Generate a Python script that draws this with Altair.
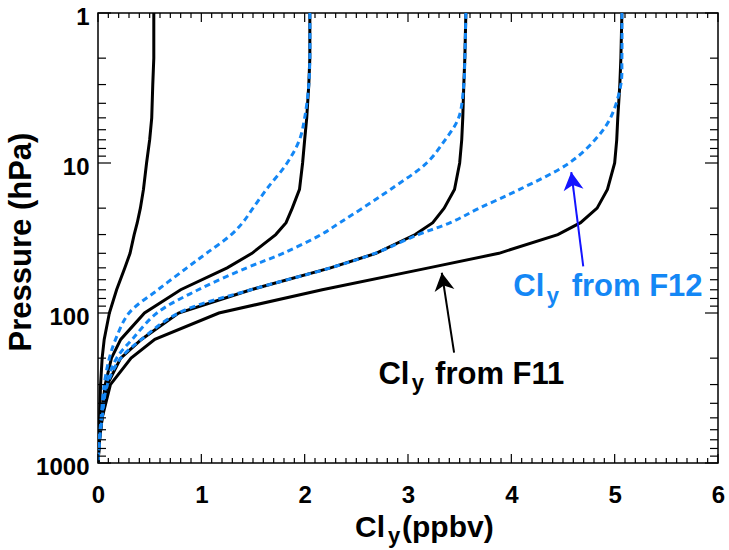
import altair as alt
import pandas as pd

# ---------------- data ----------------
pressure = [1, 2, 3, 5, 7, 10, 15, 20, 25, 30, 40, 50, 70, 100, 150, 200, 300, 500, 700, 1000]

# Cly from F11 (black solid)
f11_a = [0.54, 0.54, 0.53, 0.52, 0.50, 0.47, 0.44, 0.41, 0.38, 0.35, 0.31, 0.26, 0.18, 0.11, 0.06, 0.04, 0.025, 0.015, 0.008, 0.0]
f11_b = [2.05, 2.05, 2.04, 2.02, 2.00, 1.98, 1.95, 1.88, 1.82, 1.72, 1.49, 1.25, 0.80, 0.45, 0.22, 0.13, 0.07, 0.03, 0.012, 0.0]
f11_c = [3.56, 3.55, 3.54, 3.53, 3.52, 3.50, 3.45, 3.35, 3.24, 3.07, 2.69, 2.25, 1.48, 0.78, 0.42, 0.22, 0.09, 0.04, 0.015, 0.0]
f11_d = [5.07, 5.06, 5.05, 5.03, 5.02, 5.00, 4.93, 4.83, 4.67, 4.45, 3.88, 3.20, 2.17, 1.17, 0.55, 0.32, 0.12, 0.04, 0.015, 0.0]

# Cly from F12 (blue dotted)
f12_a = [2.05, 2.05, 2.04, 2.00, 1.95, 1.83, 1.63, 1.50, 1.40, 1.29, 1.05, 0.86, 0.58, 0.30, 0.17, 0.11, 0.06, 0.03, 0.012, 0.0]
f12_b = [3.56, 3.55, 3.54, 3.49, 3.36, 3.18, 2.83, 2.56, 2.34, 2.16, 1.79, 1.44, 0.97, 0.57, 0.33, 0.18, 0.08, 0.035, 0.015, 0.0]
f12_c = [5.07, 5.07, 5.06, 4.96, 4.81, 4.56, 4.08, 3.69, 3.41, 3.10, 2.68, 2.25, 1.48, 0.78, 0.42, 0.22, 0.09, 0.04, 0.015, 0.0]

x_major = [0, 1, 2, 3, 4, 5, 6]
x_minor = [round(i / 10, 1) for i in range(61) if i % 10 != 0]
y_major = [1, 10, 100, 1000]
y_minor = [m * 10 ** e for e in range(3) for m in range(2, 10)]

# annotations (data units: Cly, pressure)
f11_label_x = [2.714, 3.037, 3.262]
f11_label_p = [297, 324.6, 297]
f11_label_txt = ["Cl", "y", "from F11"]
f12_label_x = [4.019, 4.342, 4.584]
f12_label_p = [77.5, 85.4, 77.5]
f12_label_txt = ["Cl", "y", "from F12"]
label_sizes = [31, 22, 31]

f11_arrow_x = [3.446, 3.327]   # tail, tip
f11_arrow_p = [184.0, 53.9]
f12_arrow_x = [4.696, 4.580]
f12_arrow_p = [48.9, 11.5]

# ---------------- styling ----------------
W, H = 620, 450
BLUE = "#1487f5"
ARROW_BLUE = "#1414ff"
FONT = "Liberation Sans"
ARROW_PATH = "M0,0L1,1.8L0,1.3L-1,1.8Z"


def long_df(series):
    rows = []
    for name, vals in series.items():
        for i, (p, x) in enumerate(zip(pressure, vals)):
            rows.append({"curve": name, "idx": i, "p": p, "x": x})
    return pd.DataFrame(rows)


black_df = long_df({"F11 a": f11_a, "F11 b": f11_b, "F11 c": f11_c, "F11 d": f11_d})
blue_df = long_df({"F12 a": f12_a, "F12 b": f12_b, "F12 c": f12_c})

xs = alt.Scale(domain=[0, 6], nice=False, zero=False)
ys = alt.Scale(type="log", domain=[1, 1000], reverse=True, nice=False)

black = alt.Chart(black_df).mark_line(color="black", strokeWidth=3, clip=True).encode(
    x=alt.X("x:Q", scale=xs, axis=alt.Axis(
        orient="bottom", values=x_major, ticks=False, domain=False, grid=False,
        title=None, labelFont=FONT, labelFontSize=24, labelFontWeight="bold",
        labelColor="black", labelPadding=20, labelFlush=False, format="d")),
    y=alt.Y("p:Q", scale=ys, axis=alt.Axis(
        orient="left", values=y_major, ticks=False, domain=False, grid=False,
        title=None, labelFont=FONT, labelFontSize=24, labelFontWeight="bold",
        labelColor="black", labelPadding=9, labelOffset=4, format="d")),
    detail="curve:N", order="idx:Q",
)

blue = alt.Chart(blue_df).mark_line(color=BLUE, strokeWidth=3, strokeDash=[6, 4],
                                    strokeCap="butt", clip=True,
                                    interpolate="catmull-rom").encode(
    x=alt.X("x:Q", scale=xs, axis=None),
    y=alt.Y("p:Q", scale=ys, axis=None),
    detail="curve:N", order="idx:Q",
)


# inward tick marks on all four sides of the frame
def x_ticks(values, length, edge):
    d = pd.DataFrame({"v": values})
    y0, y1 = (H, H - length) if edge == "bottom" else (0, length)
    return alt.Chart(d).mark_rule(color="black", strokeWidth=1.2).encode(
        x=alt.X("v:Q", scale=xs, axis=None), y=alt.value(y0), y2=alt.value(y1))


def y_ticks(values, length, edge):
    d = pd.DataFrame({"v": values})
    x0, x1 = (0, length) if edge == "left" else (W, W - length)
    return alt.Chart(d).mark_rule(color="black", strokeWidth=1.2).encode(
        y=alt.Y("v:Q", scale=ys, axis=None), x=alt.value(x0), x2=alt.value(x1))


tick_layers = [
    x_ticks(x_major, 9, "bottom"), x_ticks(x_minor, 5, "bottom"),
    x_ticks(x_major, 9, "top"), x_ticks(x_minor, 5, "top"),
    y_ticks(y_major, 13, "left"), y_ticks(y_minor, 8, "left"),
    y_ticks(y_major, 13, "right"), y_ticks(y_minor, 8, "right"),
]


def arrow(xv, pv, color, angle, width):
    seg = pd.DataFrame({"x0": [xv[0]], "x1": [xv[1]], "p0": [pv[0]], "p1": [pv[1]]})
    shaft = alt.Chart(seg).mark_rule(color=color, strokeWidth=width).encode(
        x=alt.X("x0:Q", scale=xs, axis=None), x2="x1:Q",
        y=alt.Y("p0:Q", scale=ys, axis=None), y2="p1:Q",
    )
    tip = pd.DataFrame({"x": [xv[1]], "p": [pv[1]]})
    head = alt.Chart(tip).mark_point(shape=ARROW_PATH, filled=True, size=400,
                                     color=color, opacity=1, angle=angle,
                                     strokeWidth=0).encode(
        x=alt.X("x:Q", scale=xs, axis=None),
        y=alt.Y("p:Q", scale=ys, axis=None),
    )
    return shaft + head


def label(xv, pv, txt, color):
    d = pd.DataFrame({"x": xv, "p": pv, "t": txt, "fs": label_sizes})
    return alt.Chart(d).mark_text(align="left", baseline="alphabetic", font=FONT,
                                  fontWeight="bold", color=color).encode(
        x=alt.X("x:Q", scale=xs, axis=None),
        y=alt.Y("p:Q", scale=ys, axis=None),
        text="t:N",
        size=alt.Size("fs:Q", scale=None),
    )


arrow_f11 = arrow(f11_arrow_x, f11_arrow_p, "black", 351.3, 2)
arrow_f12 = arrow(f12_arrow_x, f12_arrow_p, ARROW_BLUE, 352.7, 2)
label_f11 = label(f11_label_x, f11_label_p, f11_label_txt, "black")
label_f12 = label(f12_label_x, f12_label_p, f12_label_txt, BLUE)

# axis titles as text (subscript needs separate pieces)
xt = pd.DataFrame({"t": ["Cl", "y", "(ppbv)"], "px": [257, 290, 304],
                   "py": [524, 530, 524], "fs": [30, 22, 30]})
x_title = alt.Chart(xt).mark_text(align="left", baseline="alphabetic", font=FONT,
                                  fontWeight="bold", color="black").encode(
    x=alt.X("px:Q", scale=None, axis=None), y=alt.Y("py:Q", scale=None, axis=None),
    text="t:N", size=alt.Size("fs:Q", scale=None),
)
y_title = alt.Chart(pd.DataFrame({"t": ["Pressure (hPa)"]})).mark_text(
    align="center", baseline="alphabetic", angle=270, font=FONT, fontWeight="bold",
    fontSize=31, color="black").encode(
    x=alt.value(-67), y=alt.value(229), text="t:N",
)

chart = alt.layer(
    black, blue, *tick_layers,
    arrow_f11, arrow_f12, label_f11, label_f12, x_title, y_title,
).resolve_scale(x="shared", y="shared").resolve_axis(
    x="independent", y="independent"
).properties(
    width=W, height=H, autosize="none",
    padding={"left": 98, "top": 13, "right": 11, "bottom": 87},
    background="white",
).configure_view(stroke="black", strokeWidth=1.5)

chart.save("out.html", embed_options={"renderer": "svg", "actions": False})
